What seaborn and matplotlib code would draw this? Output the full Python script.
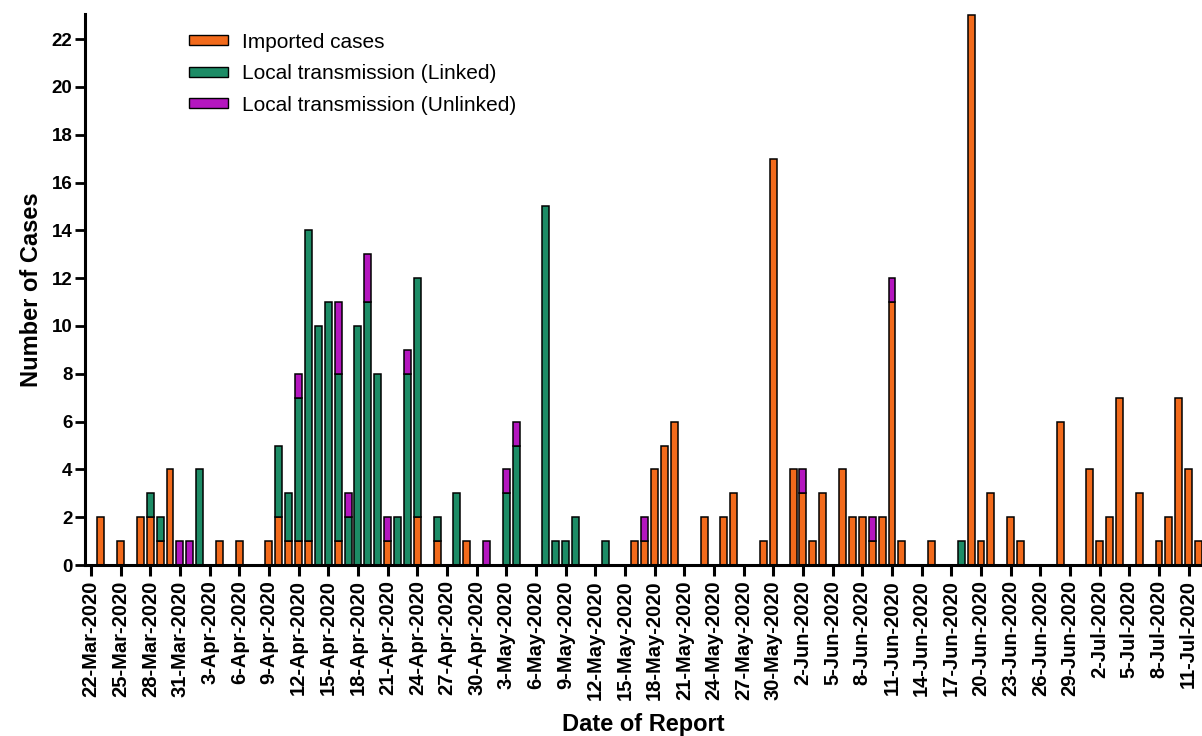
import numpy as np
import pandas as pd
import matplotlib
matplotlib.use("Agg")
import matplotlib.pyplot as plt
import seaborn as sns
from matplotlib.patches import Patch

# daily reports, 22-Mar-2020 to 12-Jul-2020
start = pd.Timestamp("2020-03-22")
end = pd.Timestamp("2020-07-12")

report_dates = [
    "2020-03-23", "2020-03-25", "2020-03-27", "2020-03-28", "2020-03-29", "2020-03-30",
    "2020-03-31", "2020-04-01", "2020-04-02", "2020-04-04", "2020-04-06", "2020-04-09",
    "2020-04-10", "2020-04-11", "2020-04-12", "2020-04-13", "2020-04-14", "2020-04-15",
    "2020-04-16", "2020-04-17", "2020-04-18", "2020-04-19", "2020-04-20", "2020-04-21",
    "2020-04-22", "2020-04-23", "2020-04-24", "2020-04-26", "2020-04-28", "2020-04-29",
    "2020-05-01", "2020-05-03", "2020-05-04", "2020-05-07", "2020-05-08", "2020-05-09",
    "2020-05-10", "2020-05-13", "2020-05-16", "2020-05-17", "2020-05-18", "2020-05-19",
    "2020-05-20", "2020-05-23", "2020-05-25", "2020-05-26", "2020-05-29", "2020-05-30",
    "2020-06-01", "2020-06-02", "2020-06-03", "2020-06-04", "2020-06-06", "2020-06-07",
    "2020-06-08", "2020-06-09", "2020-06-10", "2020-06-11", "2020-06-12", "2020-06-15",
    "2020-06-18", "2020-06-19", "2020-06-20", "2020-06-21", "2020-06-23", "2020-06-24",
    "2020-06-28", "2020-07-01", "2020-07-02", "2020-07-03", "2020-07-04", "2020-07-06",
    "2020-07-08", "2020-07-09", "2020-07-10", "2020-07-11", "2020-07-12",
]
imported = [
    2, 1, 2, 2, 1, 4,
    0, 0, 0, 1, 1, 1,
    2, 1, 1, 1, 0, 0,
    1, 0, 0, 0, 0, 1,
    0, 0, 2, 1, 0, 1,
    0, 0, 0, 0, 0, 0,
    0, 0, 1, 1, 4, 5,
    6, 2, 2, 3, 1, 17,
    4, 3, 1, 3, 4, 2,
    2, 1, 2, 11, 1, 1,
    0, 23, 1, 3, 2, 1,
    6, 4, 1, 2, 7, 3,
    1, 2, 7, 4, 1,
]
linked = [
    0, 0, 0, 1, 1, 0,
    0, 0, 4, 0, 0, 0,
    3, 2, 6, 13, 10, 11,
    7, 2, 10, 11, 8, 0,
    2, 8, 10, 1, 3, 0,
    0, 3, 5, 15, 1, 1,
    2, 1, 0, 0, 0, 0,
    0, 0, 0, 0, 0, 0,
    0, 0, 0, 0, 0, 0,
    0, 0, 0, 0, 0, 0,
    1, 0, 0, 0, 0, 0,
    0, 0, 0, 0, 0, 0,
    0, 0, 0, 0, 0,
]
unlinked = [
    0, 0, 0, 0, 0, 0,
    1, 1, 0, 0, 0, 0,
    0, 0, 1, 0, 0, 0,
    3, 1, 0, 2, 0, 1,
    0, 1, 0, 0, 0, 0,
    1, 1, 1, 0, 0, 0,
    0, 0, 0, 1, 0, 0,
    0, 0, 0, 0, 0, 0,
    0, 1, 0, 0, 0, 0,
    0, 1, 0, 1, 0, 0,
    0, 0, 0, 0, 0, 0,
    0, 0, 0, 0, 0, 0,
    0, 0, 0, 0, 0,
]

series_names = ["Imported cases", "Local transmission (Linked)", "Local transmission (Unlinked)"]
series_colors = ["#F26A1B", "#1D8C66", "#B416BF"]

days = (pd.to_datetime(report_dates) - start).days
df = pd.DataFrame({"day": np.tile(days, 3),
                   "n": imported + linked + unlinked,
                   "kind": np.repeat(series_names, len(report_dates))})
df = df[df["n"] > 0]

sns.set_style("ticks", {"axes.edgecolor": "black", "text.color": "black",
                        "xtick.color": "black", "ytick.color": "black",
                        "axes.labelcolor": "black"})
plt.rcParams["font.family"] = ["Liberation Sans", "DejaVu Sans"]

fig = plt.figure(figsize=(12.02, 7.36), dpi=100)
ax = fig.add_axes([0.0707, 0.2323, 0.9293, 0.7486])

# seaborn stacks the first hue level on top, so reverse the order
sns.histplot(data=df, x="day", weights="n", hue="kind", multiple="stack",
             discrete=True, shrink=0.7, hue_order=series_names[::-1],
             palette=dict(zip(series_names, series_colors)), alpha=1,
             edgecolor="black", linewidth=1.1, legend=False, ax=ax)

# drop empty bins
for p in list(ax.patches):
    if p.get_height() == 0:
        p.remove()

n_days = (end - start).days
ax.set_xlim(-0.6, n_days + 0.35)
ax.set_ylim(0, 23.05)
ax.set_yticks(range(0, 23, 2))
tick_days = list(range(0, n_days + 1, 3))
tick_labels = [(start + pd.Timedelta(days=d)).strftime("%-d-%b-%Y") for d in tick_days]
ax.set_xticks(tick_days)
ax.set_xticklabels(tick_labels, rotation=90, fontsize=14.5, fontweight="bold")
for lab in ax.get_yticklabels():
    lab.set_fontsize(13.5)
    lab.set_fontweight("bold")

ax.tick_params(axis="x", length=8, width=2.2, pad=3)
ax.tick_params(axis="y", length=7, width=2, pad=2)
for s in ["left", "bottom"]:
    ax.spines[s].set_linewidth(2.2)
sns.despine(ax=ax)

ax.set_xlabel("Date of Report", fontsize=17, fontweight="bold", labelpad=9)
ax.set_ylabel("Number of Cases", fontsize=17, fontweight="bold", labelpad=6)

handles = [Patch(facecolor=c, edgecolor="black", linewidth=1.0) for c in series_colors]
ax.legend(handles, series_names, loc="upper left", bbox_to_anchor=(0.076, 1.0),
          frameon=False, fontsize=15, handlelength=1.9, handleheight=0.35,
          labelspacing=0.6, handletextpad=0.65)

fig.savefig("out.png", dpi=100)
